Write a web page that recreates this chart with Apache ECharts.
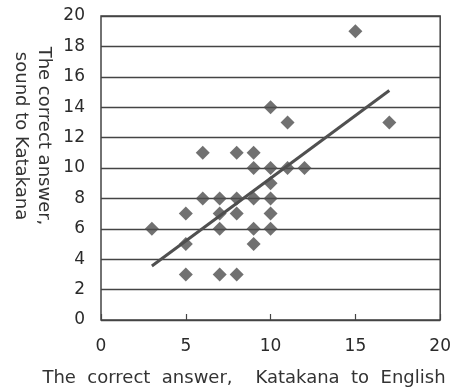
<!DOCTYPE html>
<html>
<head>
<meta charset="utf-8">
<script src="https://cdn.jsdelivr.net/npm/echarts@6/dist/echarts.min.js"></script>
<style>html,body{margin:0;padding:0;background:#fff}#c{width:454px;height:389px}</style>
</head>
<body>
<div id="c"></div>
<script>
// Data: [Katakana to English, sound to Katakana]
var xValues = [6, 8, 9, 9, 10, 11, 12, 10, 6, 7, 8, 9, 10, 5, 7, 8, 10, 3, 7, 9, 10, 5, 9, 5, 7, 8, 15, 10, 11, 17];
var yValues = [11, 11, 11, 10, 10, 10, 10, 9, 8, 8, 8, 8, 8, 7, 7, 7, 7, 6, 6, 6, 6, 5, 5, 3, 3, 3, 19, 14, 13, 13];
var trendX = [3, 17];
var trendY = [3.55, 15.1];
var xTicks = [0, 5, 10, 15, 20];
var yTicks = [0, 2, 4, 6, 8, 10, 12, 14, 16, 18, 20];
var xTitle = 'The  correct  answer,    Katakana  to  English';
var yTitleLine1 = 'The correct answer,';
var yTitleLine2 = 'sound to Katakana';

var points = xValues.map(function (x, i) { return [x, yValues[i]]; });
var trend = trendX.map(function (x, i) { return [x, trendY[i]]; });

var chart = echarts.init(document.getElementById('c'));
var labelFont = { color: '#2a2a2a', fontSize: 17, fontFamily: '"DejaVu Sans", sans-serif' };
chart.setOption({
  animation: false,
  grid: { left: 101, right: 12, top: 16, bottom: 69, show: true, borderColor: '#444', borderWidth: 1.5, containLabel: false },
  xAxis: {
    type: 'value', min: 0, max: 20, interval: 5,
    axisLine: { show: false },
    axisTick: { show: true, inside: true, length: 6, lineStyle: { color: '#444', width: 1.2 } },
    splitLine: { show: false },
    axisLabel: Object.assign({ margin: 18, formatter: function (v) { return xTicks.indexOf(v) >= 0 ? String(v) : ''; } }, labelFont)
  },
  yAxis: {
    type: 'value', min: 0, max: 20, interval: 2,
    axisLine: { show: false },
    axisTick: { show: false },
    splitLine: { show: true, lineStyle: { color: '#444', width: 1.3 } },
    axisLabel: Object.assign({ margin: 16, formatter: function (v) { return yTicks.indexOf(v) >= 0 ? String(v) : ''; } }, labelFont)
  },
  series: [
    { type: 'scatter', data: points, symbol: 'diamond', symbolSize: 14, itemStyle: { color: '#4d4d4d' }, z: 3 },
    { type: 'line', data: trend, symbol: 'none', lineStyle: { color: '#505050', width: 3 }, z: 2 }
  ],
  graphic: [
    { type: 'text', x: 244, y: 378, style: { text: xTitle, align: 'center', verticalAlign: 'middle', font: '18px "DejaVu Sans"', fill: '#333' } },
    { type: 'text', x: 44, y: 136, rotation: -Math.PI / 2, style: { text: yTitleLine1, align: 'center', verticalAlign: 'middle', font: '18px "DejaVu Sans"', fill: '#333' } },
    { type: 'text', x: 21, y: 136, rotation: -Math.PI / 2, style: { text: yTitleLine2, align: 'center', verticalAlign: 'middle', font: '18px "DejaVu Sans"', fill: '#333' } }
  ]
});
</script>
</body>
</html>
